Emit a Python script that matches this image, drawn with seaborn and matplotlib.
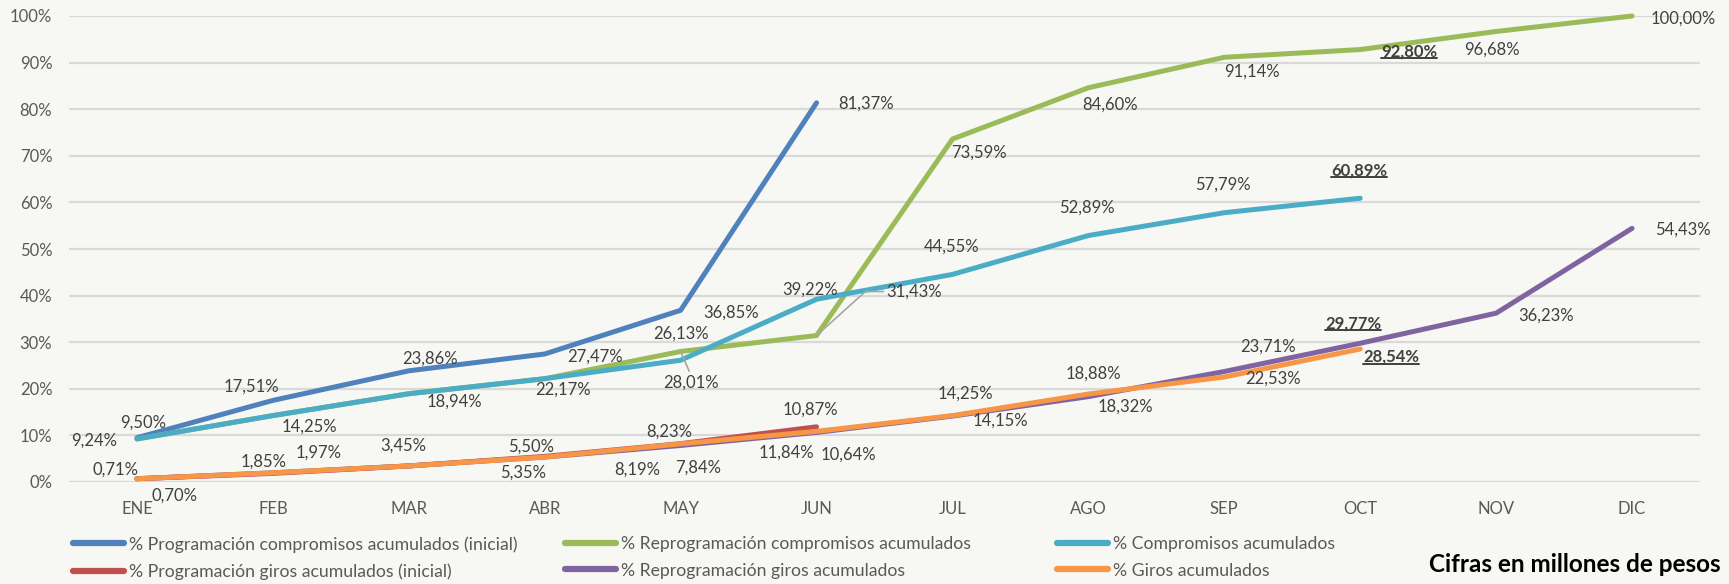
import matplotlib
matplotlib.use("Agg")
import matplotlib.pyplot as plt
from matplotlib.lines import Line2D
from matplotlib.ticker import PercentFormatter
from matplotlib.transforms import IdentityTransform
import seaborn as sns
import pandas as pd

# datos (porcentajes acumulados)
meses = ['ENE', 'FEB', 'MAR', 'ABR', 'MAY', 'JUN', 'JUL', 'AGO', 'SEP', 'OCT', 'NOV', 'DIC']
prog_comp_ini = [9.50, 17.51, 23.86, 27.47, 36.85, 81.37]
reprog_comp = [9.24, 14.25, 18.94, 22.17, 28.01, 31.43, 73.59, 84.60, 91.14, 92.80, 96.68, 100.00]
compromisos = [9.24, 14.25, 18.94, 22.17, 26.13, 39.22, 44.55, 52.89, 57.79, 60.89]
prog_giros_ini = [0.71, 1.85, 3.45, 5.50, 8.23, 11.84]
reprog_giros = [0.70, 1.97, 3.45, 5.35, 7.84, 10.64, 14.15, 18.32, 23.71, 29.77, 36.23, 54.43]
giros = [0.70, 1.97, 3.45, 5.35, 8.19, 10.87, 14.25, 18.88, 22.53, 28.54]

series = [
    ('% Programación compromisos acumulados (inicial)', prog_comp_ini, '#4F81BD'),
    ('% Reprogramación compromisos acumulados', reprog_comp, '#9BBB59'),
    ('% Compromisos acumulados', compromisos, '#4BACC6'),
    ('% Programación giros acumulados (inicial)', prog_giros_ini, '#C0504D'),
    ('% Reprogramación giros acumulados', reprog_giros, '#8064A2'),
    ('% Giros acumulados', giros, '#F79646'),
]

# posicion de etiquetas (dx, dy en pixeles), None = sin etiqueta
offsets = [
    [(6, 15), (-21, 14), (21, 12), (50, -3), (50, -2), (50, -1)],
    [None, None, None, None, (10, -31), (98, 44), (26, -14), (22, -17), (28, -14), (49, -2), (-4, -18), (51, -3)],
    [(-43, -2), (37, -11), (46, -8), (18, -11), (0, 27), (-6, 10), (-1, 28), (-1, 28), (-1, 28), (-1, 28)],
    [(-21, 9), (-9, 12), (-6, 20), (-14, 10), (-11, 12), (-30, -26)],
    [None, None, None, None, (18, -22), (32, -22), (48, -5), (37, -10), (44, 25), (-7, 20), (50, -2), (51, -1)],
    [(38, -17), (46, 20), None, (-22, -16), (-43, -26), (-6, 22), (13, 22), (5, 20), (49, -2), (31, -8)],
]
negrita = {(1, 9), (2, 9), (4, 9), (5, 9)}
guias = {(1, 4): ((0.5, 1.0), 'arc3'), (1, 5): ((0.0, 0.5), 'angle,angleA=0,angleB=42,rad=0')}

rows = []
for nombre, vals, _ in series:
    for i, v in enumerate(vals):
        rows.append({'serie': nombre, 'pos': i, 'valor': v / 100})
df = pd.DataFrame(rows)

sns.set_theme(style='white')
plt.rcParams['font.family'] = ['Lato', 'DejaVu Sans']
bg = '#F7F7F3'

fig = plt.figure(figsize=(17.29, 5.84), dpi=100, facecolor=bg)
ax = fig.add_axes([69 / 1729, 1 - 482 / 584, 1631 / 1729, 466 / 584])
ax.set_facecolor(bg)

sns.lineplot(data=df, x='pos', y='valor', hue='serie', hue_order=[s[0] for s in series],
             palette=[s[2] for s in series], linewidth=3.6, legend=False, ax=ax,
             estimator=None, sort=False)
for ln in ax.lines:
    ln.set_solid_capstyle('round')
    ln.set_solid_joinstyle('round')
    ln.set_clip_on(False)

ax.set_xlim(-0.5, 11.5)
ax.set_ylim(0, 1)
ax.set_xticks(range(len(meses)), meses)
ax.set_yticks([i / 10 for i in range(11)])
ax.yaxis.set_major_formatter(PercentFormatter(1.0, decimals=0))
ax.yaxis.grid(True, color='#D9D9D9', lw=1.6)
ax.xaxis.grid(False)
ax.set_axisbelow(True)
for s in ax.spines.values():
    s.set_visible(False)
ax.tick_params(axis='both', length=0, labelsize=12, colors='#595959')
ax.tick_params(axis='y', pad=12)
ax.tick_params(axis='x', pad=14)
ax.set_xlabel('')
ax.set_ylabel('')

# etiquetas de datos
bold_texts = []
for k, (nombre, vals, _) in enumerate(series):
    for i, v in enumerate(vals):
        off = offsets[k][i]
        if off is None:
            continue
        txt = f'{v:.2f}'.replace('.', ',') + '%'
        kw = {}
        if (k, i) in guias:
            rel, cs = guias[(k, i)]
            kw['arrowprops'] = dict(arrowstyle='-', color='#A6A6A6', lw=1.2, shrinkA=0, shrinkB=0,
                                    relpos=rel, connectionstyle=cs)
        t = ax.annotate(txt, xy=(i, v / 100), xytext=off, textcoords='offset pixels',
                        ha='center', va='center', fontsize=12, color='#404040',
                        fontweight='bold' if (k, i) in negrita else 'normal',
                        annotation_clip=False, **kw)
        if (k, i) in negrita:
            bold_texts.append(t)

# leyenda en tres columnas
cols_x = [73, 565, 1057]
for c in range(3):
    idx = [c, c + 3]
    handles = [Line2D([0], [0], color=series[j][2], lw=4.5, solid_capstyle='round') for j in idx]
    fig.legend(handles, [series[j][0] for j in idx], loc='upper left',
               bbox_to_anchor=(cols_x[c] / 1729, 1 - 536 / 584), frameon=False,
               fontsize=12.7, handlelength=2.9, handletextpad=0.3, labelspacing=0.6,
               borderpad=0, borderaxespad=0, labelcolor='#595959')

fig.text(1721 / 1729, 1 - 564 / 584, 'Cifras en millones de pesos', ha='right', va='center',
         fontsize=17.5, fontweight='bold', color='black')

# subrayado de las etiquetas en negrita
fig.canvas.draw()
for t in bold_texts:
    bb = t.get_window_extent()
    y = bb.y0 + 1.5
    fig.add_artist(Line2D([bb.x0, bb.x1], [y, y], transform=IdentityTransform(),
                          color='#404040', lw=1.4))

fig.savefig('out.png', dpi=100, facecolor=bg)
